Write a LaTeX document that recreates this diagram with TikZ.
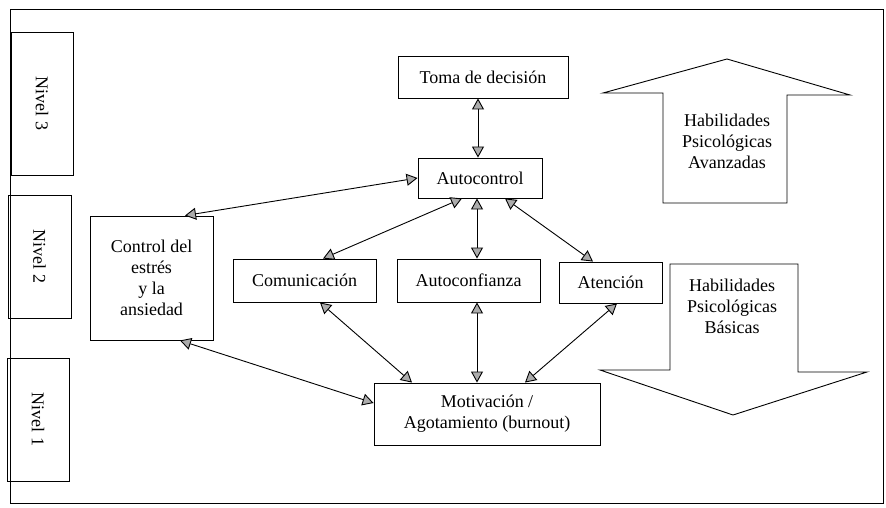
\documentclass[tikz,border=0pt]{standalone}
\usepackage{fontspec}
\setmainfont{Liberation Serif}
\usetikzlibrary{arrows.meta}
\begin{document}
\begin{tikzpicture}[x=1pt,y=-1pt,
  every node/.style={font=\fontsize{18}{21}\selectfont},
  box/.style={draw,line width=0.9pt,inner sep=0pt,align=center},
  conn/.style={line width=0.9pt,{Triangle[length=11pt,width=12pt,fill=gray!65]}-{Triangle[length=11pt,width=12pt,fill=gray!65]}},
  bigarrow/.style={draw,line width=0.9pt}]
\useasboundingbox (0,0) rectangle (886,508);
\draw[line width=0.9pt] (10,9) rectangle (883,503);
% level boxes
\node[box,minimum width=62pt,minimum height=143pt] (n3) at (42,103.5) {};
\node[rotate=-90] (n3t) at (n3.center) {Nivel 3};
\node[box,minimum width=63pt,minimum height=123pt] (n2) at (39.5,256.5) {};
\node[rotate=-90] (n2t) at (n2.center) {Nivel 2};
\node[box,minimum width=62pt,minimum height=123pt] (n1) at (38,419.5) {};
\node[rotate=-90] (n1t) at (n1.center) {Nivel 1};
% main nodes
\node[box,minimum width=170pt,minimum height=42pt] (toma) at (483,77) {Toma de decisión};
\node[box,minimum width=124pt,minimum height=40pt] (autoc) at (480,178) {Autocontrol};
\node[box,minimum width=143pt,minimum height=43pt] (comu) at (304.5,280.5) {Comunicación};
\node[box,minimum width=143pt,minimum height=43pt] (conf) at (468.5,280.5) {Autoconfianza};
\node[box,minimum width=103pt,minimum height=41pt] (aten) at (610.5,282.5) {Atención};
\node[box,minimum width=226pt,minimum height=62pt] (moti) at (487,414) {Motivación /\\Agotamiento (burnout)};
\node[box,minimum width=123pt,minimum height=124pt] (ctrl) at (151.5,278) {Control del\\estrés\\y la\\ansiedad};
% connectors
\draw[conn] ([xshift=-5pt]toma.south) -- ([xshift=-2pt]autoc.north);
\draw[conn] (autoc.west) -- ([xshift=33.5pt]ctrl.north);
\draw[conn] ([xshift=-18pt]autoc.south) -- ([xshift=18.5pt]comu.north);
\draw[conn] ([xshift=-3pt]autoc.south) -- ([xshift=8.5pt]conf.north);
\draw[conn] ([xshift=25pt]autoc.south) -- ([xshift=-17.5pt]aten.north);
\draw[conn] ([xshift=15.5pt]comu.south) -- ([xshift=-75pt]moti.north);
\draw[conn] ([xshift=8.5pt]conf.south) -- ([xshift=-10pt]moti.north);
\draw[conn] ([xshift=6.5pt]aten.south) -- ([xshift=38pt]moti.north);
\draw[conn] ([xshift=28.5pt]ctrl.south) -- ([yshift=11pt]moti.west);
% big arrows
\draw[bigarrow] (663,203) -- (663,93) -- (603,93) -- (727,59) -- (850,95) -- (787,95) -- (787,203) -- cycle;
\node[align=center] (adv) at (727,141) {Habilidades\\Psicológicas\\Avanzadas};
\draw[bigarrow] (670,370) -- (670,264) -- (798,264) -- (798,372) -- (867,372) -- (733,415) -- (600,370) -- cycle;
\node[align=center] (bas) at (732,306) {Habilidades\\Psicológicas\\Básicas};
\end{tikzpicture}
\end{document}
